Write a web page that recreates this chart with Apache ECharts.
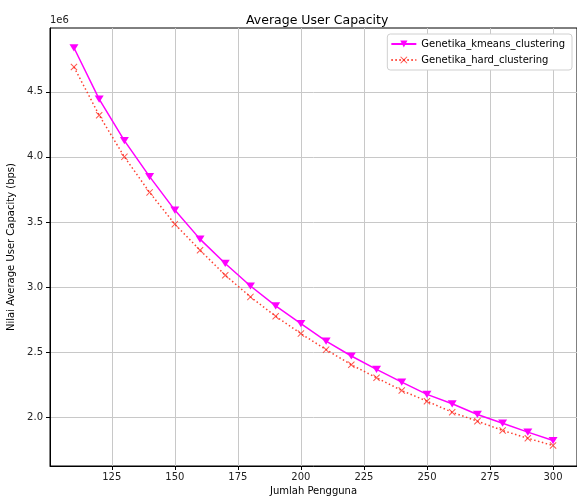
<!DOCTYPE html>
<html>
<head>
<meta charset="utf-8">
<script src="https://cdn.jsdelivr.net/npm/echarts@6/dist/echarts.min.js"></script>
<style>html,body{margin:0;padding:0;background:#fff}#c{width:577px;height:497px}</style>
</head>
<body>
<div id="c"></div>
<script>
const users = [110,120,130,140,150,160,170,180,190,200,210,220,230,240,250,260,270,280,290,300];
const kmeansCapacity = [4838000,4443000,4125000,3848000,3591000,3368000,3181000,3008000,2855000,2719000,2585000,2470000,2367000,2269000,2175000,2103000,2021000,1954000,1885000,1821000];
const hardCapacity = [4690000,4320000,4000000,3727000,3483000,3283000,3091000,2924000,2775000,2642000,2519000,2403000,2303000,2205000,2123000,2038000,1969000,1898000,1838000,1782000];
const xTicks = [125,150,175,200,225,250,275,300];
const yTicks = [2000000,2500000,3000000,3500000,4000000,4500000];
const seriesNames = ['Genetika_kmeans_clustering','Genetika_hard_clustering'];

const font = 'DejaVu Sans';
const chart = echarts.init(document.getElementById('c'), null, {renderer:'canvas'});
const xSym = 'path://M0,1L1,0L5,4L9,0L10,1L6,5L10,9L9,10L5,6L1,10L0,9L4,5Z';
const triDown = 'path://M0,0L10,0L5,9Z';

chart.setOption({
  animation:false,
  backgroundColor:'#fff',
  title:{text:'Average User Capacity', left:241, top:9,
    textStyle:{fontFamily:font, fontSize:12.5, fontWeight:'normal', color:'#000'}},
  graphic:[{type:'text', left:50, top:15, style:{text:'1e6', font:'10px "DejaVu Sans"', fill:'#222'}}],
  legend:{
    orient:'vertical', right:5, top:34, padding:[5,7,5,3], itemGap:6,
    itemWidth:25, itemHeight:9,
    backgroundColor:'#fff', borderColor:'#d0d0d0', borderWidth:1, borderRadius:3,
    textStyle:{fontFamily:font, fontSize:10, color:'#000'},
    data:seriesNames
  },
  grid:{left:50, right:0, top:28, bottom:31, show:true, borderColor:'#000', borderWidth:1,
    containLabel:false, outerBoundsMode:'none'},
  xAxis:{
    type:'value', min:100.5, max:309.5,
    name:'Jumlah Pengguna', nameLocation:'middle', nameGap:20,
    nameTextStyle:{fontFamily:font, fontSize:10, color:'#000'},
    axisLine:{show:true, lineStyle:{color:'#000'}},
    axisTick:{show:true, length:4, customValues:xTicks, lineStyle:{color:'#000'}},
    axisLabel:{customValues:xTicks, fontFamily:font, fontSize:10, color:'#222', margin:6},
    splitLine:{show:true, lineStyle:{color:'#c8c8c8', width:1}}
  },
  yAxis:{
    type:'value', min:1625000, max:4990000,
    name:'Nilai Average User Capacity (bps)', nameLocation:'middle', nameGap:30,
    nameTextStyle:{fontFamily:font, fontSize:10, color:'#000'},
    axisLine:{show:true, lineStyle:{color:'#000'}},
    axisTick:{show:true, length:4, customValues:yTicks, lineStyle:{color:'#000'}},
    axisLabel:{customValues:yTicks, fontFamily:font, fontSize:10, color:'#222', margin:7,
      formatter:v=>(v/1e6).toFixed(1)},
    splitLine:{show:true, lineStyle:{color:'#c8c8c8', width:1}}
  },
  series:[
    {name:seriesNames[0], type:'line', data:users.map((u,i)=>[u,kmeansCapacity[i]]),
      symbol:triDown, symbolSize:[9,8], symbolKeepAspect:true,
      lineStyle:{color:'#ff00ff', width:1.5, type:'solid'},
      itemStyle:{color:'#ff00ff'}},
    {name:seriesNames[1], type:'line', data:users.map((u,i)=>[u,hardCapacity[i]]),
      symbol:xSym, symbolSize:7,
      lineStyle:{color:'#ff2a1a', width:1.5, type:[1.5,2.5], opacity:0.9},
      itemStyle:{color:'rgba(255,30,20,0.75)'}}
  ]
});
</script>
</body>
</html>
